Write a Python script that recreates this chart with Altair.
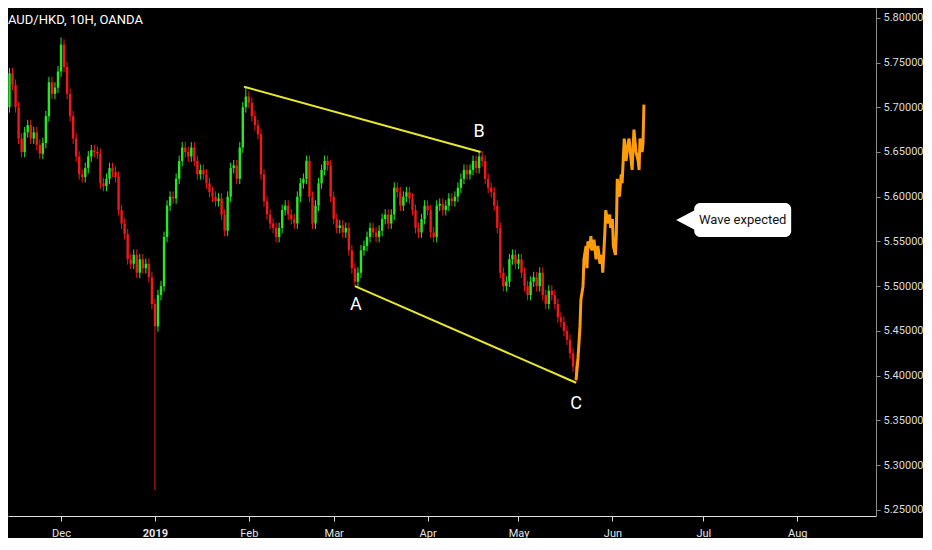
import altair as alt
import pandas as pd

BASE = pd.Timestamp("2018-11-13")

# daily closes (day 0 = 2018-11-13)
closes = [
    5.700, 5.738, 5.725, 5.700, 5.665, 5.650, 5.672, 5.680, 5.665, 5.672,
    5.658, 5.648, 5.660, 5.690, 5.728, 5.715, 5.722, 5.740, 5.770, 5.745,
    5.715, 5.690, 5.665, 5.645, 5.625, 5.622, 5.632, 5.645, 5.652, 5.650,
    5.648, 5.615, 5.612, 5.620, 5.632, 5.628, 5.622, 5.585, 5.570, 5.558,
    5.530, 5.525, 5.535, 5.515, 5.530, 5.520, 5.525, 5.510, 5.480, 5.455,
    5.490, 5.500, 5.555, 5.590, 5.600, 5.598, 5.620, 5.640, 5.655, 5.650,
    5.645, 5.655, 5.640, 5.625, 5.630, 5.625, 5.615, 5.605, 5.600, 5.595,
    5.598, 5.580, 5.562, 5.600, 5.632, 5.635, 5.620, 5.655, 5.700, 5.712,
    5.705, 5.690, 5.680, 5.670, 5.625, 5.595, 5.580, 5.570, 5.565, 5.555,
    5.565, 5.585, 5.590, 5.580, 5.575, 5.570, 5.600, 5.615, 5.620, 5.640,
    5.600, 5.570, 5.590, 5.615, 5.630, 5.640, 5.635, 5.600,
    5.575, 5.565, 5.568, 5.560, 5.565, 5.540, 5.520, 5.505, 5.515, 5.540,
    5.545, 5.555, 5.565, 5.560, 5.555, 5.562, 5.575, 5.580, 5.570, 5.580,
    5.610, 5.605, 5.590, 5.600, 5.605, 5.598, 5.585, 5.565, 5.560, 5.575, 5.590,
    5.585, 5.560, 5.555, 5.590, 5.592, 5.585, 5.590, 5.598, 5.595, 5.600,
    5.610, 5.620, 5.630, 5.625, 5.630, 5.640, 5.632, 5.645, 5.640, 5.620,
    5.610, 5.605, 5.590, 5.565, 5.515, 5.500, 5.505, 5.530, 5.535, 5.525,
    5.530, 5.515, 5.500, 5.490, 5.505, 5.510, 5.500, 5.515, 5.490, 5.480,
    5.495, 5.490, 5.480, 5.465, 5.460, 5.450, 5.440, 5.425, 5.410, 5.395,
]
first_open = 5.690
wick = 0.006
high_marks = {18: 5.778, 79: 5.723, 156: 5.651}
low_marks = {49: 5.272, 115: 5.500, 188: 5.392}

# projected path (orange), day offsets and prices
proj_days = [188.0, 188.65, 189.3, 189.6, 190.3, 190.6, 191.3, 191.6, 191.9, 192.6,
             192.9, 193.2, 193.9, 194.6, 195.2, 195.9, 196.5, 196.8, 197.2, 197.5,
             197.8, 198.5, 199.1, 199.4, 200.0, 200.3, 201.0, 201.3, 201.6, 202.3,
             202.9, 203.2, 203.9, 204.5, 205.2, 205.5, 206.2, 206.5, 207.1, 207.8,
             208.5, 208.8, 209.1, 209.8, 210.1, 210.4]
proj_prices = [5.395, 5.420, 5.455, 5.485, 5.500, 5.530, 5.545, 5.520, 5.550, 5.545,
               5.556, 5.540, 5.552, 5.530, 5.545, 5.525, 5.535, 5.515, 5.540, 5.560,
               5.585, 5.570, 5.580, 5.565, 5.575, 5.545, 5.535, 5.560, 5.620, 5.600,
               5.625, 5.615, 5.665, 5.640, 5.660, 5.665, 5.640, 5.630, 5.675, 5.650,
               5.640, 5.630, 5.665, 5.650, 5.660, 5.703]

# trend lines A-C and top-B
line_ids = ["top", "top", "bottom", "bottom"]
line_days = [78.4, 156.5, 115.0, 188.0]
line_prices = [5.723, 5.650, 5.500, 5.392]

# point labels
label_text = ["A", "B", "C"]
label_days = [115.3, 156.0, 188.0]
label_prices = [5.479, 5.672, 5.368]

# callout
callout_text = "Wave expected"
callout_days = [227.0, 259.0]
callout_prices = [5.555, 5.593]
callout_tip_day = 224.0
callout_mid_price = 5.574

y_ticks = [5.25, 5.30, 5.35, 5.40, 5.45, 5.50, 5.55, 5.60, 5.65, 5.70, 5.75, 5.80]


def day_to_date(d):
    return BASE + pd.to_timedelta(d, unit="D")


opens = [first_open] + closes[:-1]
rows = []
for i, (o, c) in enumerate(zip(opens, closes)):
    hi = high_marks.get(i, max(o, c) + wick)
    lo = low_marks.get(i, min(o, c) - wick)
    rows.append({"date": day_to_date(i), "open": o, "close": c, "high": hi, "low": lo,
                 "dir": "up" if c >= o else "down"})
candles = pd.DataFrame(rows)

proj = pd.DataFrame({"date": [day_to_date(d) for d in proj_days], "price": proj_prices})
lines = pd.DataFrame({"id": line_ids, "date": [day_to_date(d) for d in line_days], "price": line_prices})
labels = pd.DataFrame({"t": label_text, "date": [day_to_date(d) for d in label_days], "price": label_prices})
box = pd.DataFrame({"d1": [day_to_date(callout_days[0])], "d2": [day_to_date(callout_days[1])],
                    "p1": [callout_prices[0]], "p2": [callout_prices[1]],
                    "mid": [day_to_date((callout_days[0] + callout_days[1]) / 2)],
                    "tip": [day_to_date(callout_tip_day)], "pm": [callout_mid_price],
                    "t": [callout_text]})

xscale = alt.Scale(domain=[alt.DateTime(year=2018, month=11, date=13, hours=12),
                           alt.DateTime(year=2019, month=8, date=27)], nice=False)
yscale = alt.Scale(domain=[5.243, 5.811], nice=False, zero=False)

FONT = "Roboto, sans-serif"
GREEN = "#27e827"
RED = "#f01818"

month_ticks = [alt.DateTime(year=2018, month=12, date=1)] + [
    alt.DateTime(year=2019, month=m, date=1) for m in range(1, 9)]

xaxis = alt.Axis(values=month_ticks, title=None, grid=False,
                 labelExpr="month(datum.value)==0 ? timeFormat(datum.value, '%Y') : timeFormat(datum.value, '%b')",
                 labelFontWeight={"condition": {"test": "month(datum.value)==0", "value": "bold"}, "value": "normal"},
                 domainColor="#dcdcdc", tickColor="#dcdcdc", tickSize=5, labelColor="#e6e6e6",
                 labelFontSize=11, labelPadding=6, labelFont=FONT)
yaxis = alt.Axis(values=y_ticks, format=".5f", orient="right", title=None, grid=False,
                 domainColor="#8c8c8c", tickColor="#8c8c8c", tickSize=4, labelColor="#dcdcdc",
                 labelFontSize=11, labelPadding=3, labelFont=FONT)


def X(field):
    return alt.X(field, scale=xscale, axis=xaxis)


def Y(field):
    return alt.Y(field, scale=yscale, axis=yaxis)


color = alt.Color("dir:N", scale=alt.Scale(domain=["up", "down"], range=[GREEN, RED]), legend=None)

wicks = alt.Chart(candles).mark_rule(strokeWidth=1, clip=True).encode(
    x=X("date:T"), y=Y("low:Q"), y2="high:Q", color=color,
)
bodies = alt.Chart(candles).mark_rule(strokeWidth=2.4, clip=True).encode(
    x=X("date:T"), y=Y("open:Q"), y2="close:Q", color=color,
)
trend = alt.Chart(lines).mark_line(color="#e8e830", strokeWidth=2, clip=True).encode(
    x=X("date:T"), y=Y("price:Q"), detail="id:N",
)
projection = alt.Chart(proj).mark_line(color="#ff9c0a", strokeWidth=3, clip=True).encode(
    x=X("date:T"), y=Y("price:Q"),
)
letters = alt.Chart(labels).mark_text(color="#ffffff", fontSize=18, font=FONT).encode(
    x=X("date:T"), y=Y("price:Q"), text="t:N",
)
rect = alt.Chart(box).mark_rect(color="#ffffff", cornerRadius=6).encode(
    x=X("d1:T"), x2="d2:T", y=Y("p1:Q"), y2="p2:Q",
)
pointer = alt.Chart(box).mark_point(shape="M -0.9 0 L 1 -1 L 1 1 Z", size=400, filled=True,
                                    color="#ffffff", opacity=1).encode(
    x=X("tip:T"), y=Y("pm:Q"),
)
box_text = alt.Chart(box).mark_text(color="#111111", fontSize=13, font=FONT).encode(
    x=X("mid:T"), y=Y("pm:Q"), text="t:N",
)
title = alt.Chart(box).mark_text(color="#ffffff", fontSize=13, font=FONT, align="left",
                                 baseline="middle").encode(
    x=alt.value(0), y=alt.value(12), text=alt.value("AUD/HKD, 10H, OANDA"),
)

chart = alt.layer(wicks, bodies, trend, projection, letters, rect, pointer, box_text, title).properties(
    width=868, height=508, padding={"left": 0, "top": 0, "right": 0, "bottom": 0},
    background="#000000",
).configure_view(strokeWidth=0)

chart.save("out.html", embed_options={"renderer": "svg", "actions": False})
